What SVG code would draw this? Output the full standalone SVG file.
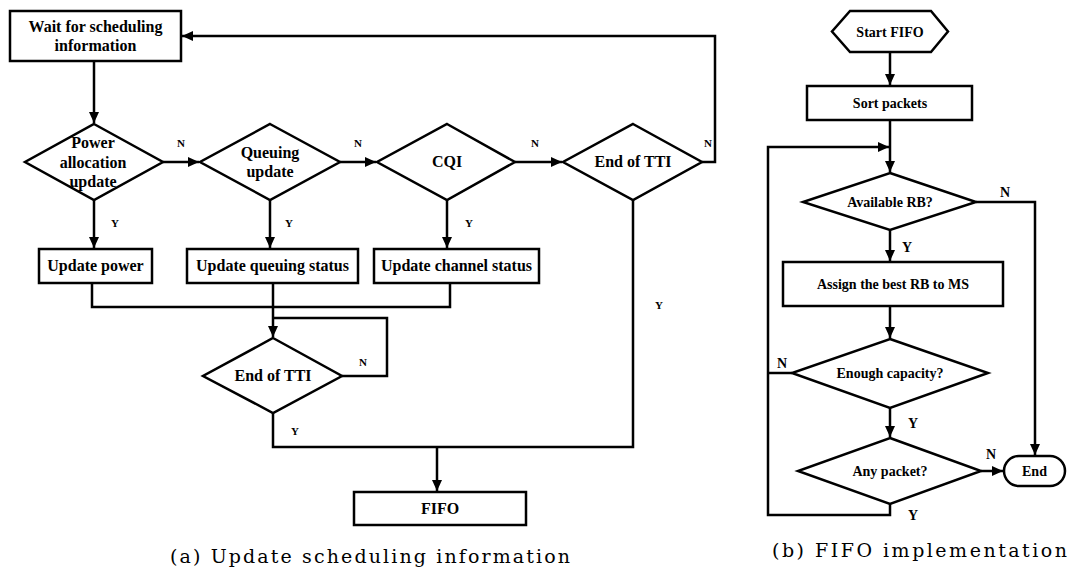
<svg xmlns="http://www.w3.org/2000/svg" width="1068" height="571" viewBox="0 0 1068 571">
  <style>
    .shape { fill: #fff; stroke: #000; stroke-width: 2.5; }
    .wire { fill: none; stroke: #000; stroke-width: 2.5; }
    .t16 { font-family: "Liberation Serif", "Times New Roman", serif; font-weight: bold; font-size: 16px; text-anchor: middle; }
    .t14 { font-family: "Liberation Serif", "Times New Roman", serif; font-weight: bold; font-size: 14px; text-anchor: middle; }
    .lab { font-family: "Liberation Serif", "Times New Roman", serif; font-weight: bold; font-size: 11px; text-anchor: middle; }
    .labr { font-family: "Liberation Serif", "Times New Roman", serif; font-weight: bold; font-size: 14px; text-anchor: middle; }
    .cap { font-family: "DejaVu Serif", "Liberation Serif", serif; font-size: 19px; }
  </style>
  <defs>
    <marker id="arrow" markerUnits="userSpaceOnUse" markerWidth="12" markerHeight="10" refX="11" refY="5" orient="auto">
      <path d="M0,0 L11,5 L0,10 z" fill="#000"/>
    </marker>
  </defs>

  <rect width="1068" height="571" fill="#fff"/>

  <!-- connectors -->
  <g id="connectors">
    <!-- (a) update scheduling information -->
    <line class="wire" x1="94" y1="61" x2="94" y2="123" marker-end="url(#arrow)"/>
    <line class="wire" x1="163" y1="162" x2="199" y2="162" marker-end="url(#arrow)"/>
    <line class="wire" x1="340" y1="162" x2="376" y2="162" marker-end="url(#arrow)"/>
    <line class="wire" x1="515" y1="162" x2="562" y2="162" marker-end="url(#arrow)"/>
    <polyline class="wire" points="702,162 715,162 715,36 182,36" marker-end="url(#arrow)"/>
    <line class="wire" x1="94" y1="200" x2="94" y2="248" marker-end="url(#arrow)"/>
    <line class="wire" x1="270" y1="200" x2="270" y2="248" marker-end="url(#arrow)"/>
    <line class="wire" x1="447" y1="200" x2="447" y2="248" marker-end="url(#arrow)"/>
    <polyline class="wire" points="92,283 92,307 450,307 450,283"/>
    <line class="wire" x1="273" y1="283" x2="273" y2="337" marker-end="url(#arrow)"/>
    <polyline class="wire" points="342,376 387,376 387,318 273,318"/>
    <polyline class="wire" points="273,413 273,447 633,447 633,200"/>
    <line class="wire" x1="437" y1="447" x2="437" y2="491" marker-end="url(#arrow)"/>

    <text class="lab" x="181" y="147">N</text>
    <text class="lab" x="358" y="147">N</text>
    <text class="lab" x="535" y="147">N</text>
    <text class="lab" x="708" y="147">N</text>
    <text class="lab" x="115" y="227">Y</text>
    <text class="lab" x="289" y="227">Y</text>
    <text class="lab" x="469" y="227">Y</text>
    <text class="lab" x="659" y="309">Y</text>
    <text class="lab" x="363" y="366">N</text>
    <text class="lab" x="295" y="435">Y</text>

    <!-- (b) FIFO implementation -->
    <line class="wire" x1="890" y1="52" x2="890" y2="85" marker-end="url(#arrow)"/>
    <line class="wire" x1="890" y1="120" x2="890" y2="172" marker-end="url(#arrow)"/>
    <polyline class="wire" points="890,504 890,515 768,515 768,147 889,147" marker-end="url(#arrow)"/>
    <line class="wire" x1="792" y1="373" x2="768" y2="373"/>
    <polyline class="wire" points="976,202 1035,202 1035,455" marker-end="url(#arrow)"/>
    <line class="wire" x1="890" y1="230" x2="890" y2="261" marker-end="url(#arrow)"/>
    <line class="wire" x1="890" y1="306" x2="890" y2="338" marker-end="url(#arrow)"/>
    <line class="wire" x1="890" y1="408" x2="890" y2="437" marker-end="url(#arrow)"/>
    <line class="wire" x1="981" y1="471" x2="1003" y2="471" marker-end="url(#arrow)"/>

    <text class="labr" x="1005" y="197">N</text>
    <text class="labr" x="907" y="252">Y</text>
    <text class="labr" x="782" y="368">N</text>
    <text class="labr" x="913" y="428">Y</text>
    <text class="labr" x="991" y="459">N</text>
    <text class="labr" x="913" y="520">Y</text>
  </g>

  <!-- (a) nodes -->
  <g id="wait">
    <rect class="shape" x="10" y="11" width="171" height="50"/>
    <text class="t16" x="95.5" y="32">Wait for scheduling</text>
    <text class="t16" x="95.5" y="51">information</text>
  </g>
  <g id="power-decision">
    <polygon class="shape" points="94,124 163,162 94,200 25,162"/>
    <text class="t16" x="93" y="148">Power</text>
    <text class="t16" x="93" y="168">allocation</text>
    <text class="t16" x="93" y="187">update</text>
  </g>
  <g id="queuing-decision">
    <polygon class="shape" points="270,124 340,162 270,200 200,162"/>
    <text class="t16" x="270" y="158">Queuing</text>
    <text class="t16" x="270" y="177">update</text>
  </g>
  <g id="cqi-decision">
    <polygon class="shape" points="447,124 515,162 447,200 377,162"/>
    <text class="t16" x="447" y="167">CQI</text>
  </g>
  <g id="tti-decision-1">
    <polygon class="shape" points="633,124 702,162 633,200 563,162"/>
    <text class="t16" x="633" y="167">End of TTI</text>
  </g>
  <g id="update-power">
    <rect class="shape" x="39" y="249" width="113" height="34"/>
    <text class="t16" x="95.5" y="271">Update power</text>
  </g>
  <g id="update-queuing">
    <rect class="shape" x="187" y="249" width="171" height="34"/>
    <text class="t16" x="272.5" y="271">Update queuing status</text>
  </g>
  <g id="update-channel">
    <rect class="shape" x="374" y="249" width="165" height="34"/>
    <text class="t16" x="456.5" y="271">Update channel status</text>
  </g>
  <g id="tti-decision-2">
    <polygon class="shape" points="273,338 342,376 273,413 203,376"/>
    <text class="t16" x="273" y="381">End of TTI</text>
  </g>
  <g id="fifo">
    <rect class="shape" x="354" y="492" width="172" height="33"/>
    <text class="t16" x="440" y="514">FIFO</text>
  </g>

  <!-- (b) nodes -->
  <g id="start-fifo">
    <polygon class="shape" points="850,11 931,11 948,31.5 931,52 850,52 832,31.5"/>
    <text class="t14" x="890" y="37">Start FIFO</text>
  </g>
  <g id="sort-packets">
    <rect class="shape" x="807" y="86" width="165" height="34"/>
    <text class="t14" x="890" y="108">Sort packets</text>
  </g>
  <g id="available-rb">
    <polygon class="shape" points="890,173 976,202 890,230 803,202"/>
    <text class="t14" x="890" y="207">Available RB?</text>
  </g>
  <g id="assign-rb">
    <rect class="shape" x="783" y="262" width="220" height="44"/>
    <text class="t14" x="893" y="289">Assign the best RB to MS</text>
  </g>
  <g id="enough-capacity">
    <polygon class="shape" points="890,339 988,373 890,408 792,373"/>
    <text class="t14" x="890" y="378">Enough capacity?</text>
  </g>
  <g id="any-packet">
    <polygon class="shape" points="890,438 981,471 890,504 798,471"/>
    <text class="t14" x="890" y="476">Any packet?</text>
  </g>
  <g id="end">
    <rect class="shape" x="1004" y="456" width="61" height="30" rx="15" ry="15"/>
    <text class="t14" x="1034.5" y="476">End</text>
  </g>

  <!-- sub-figure captions -->
  <text class="cap" x="170" y="563" textLength="400" lengthAdjust="spacing">(a) Update scheduling information</text>
  <text class="cap" x="772" y="557" textLength="295" lengthAdjust="spacing">(b) FIFO implementation</text>
</svg>
